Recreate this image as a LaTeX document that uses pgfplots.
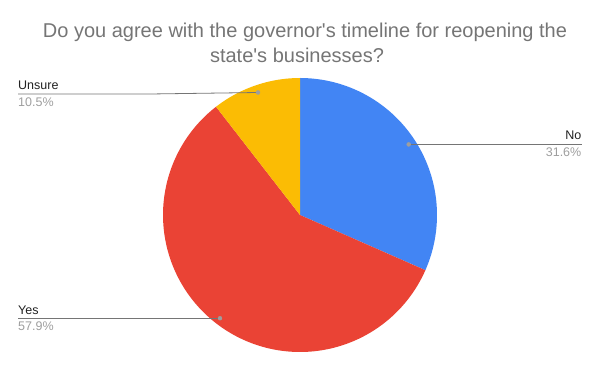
\documentclass[border=0pt]{standalone}
\usepackage{pgfplots}
\pgfplotsset{compat=1.18}
\usepackage{fontspec}
\setmainfont{Liberation Sans}
\definecolor{cNo}{HTML}{4285F4}
\definecolor{cYes}{HTML}{EA4335}
\definecolor{cUn}{HTML}{FBBC04}
\definecolor{ttl}{HTML}{757575}
\definecolor{lab}{HTML}{222222}
\definecolor{pct}{HTML}{9E9E9E}
\definecolor{ldr}{HTML}{757575}
% values (percent)
\def\vNo{31.6}
\def\vYes{57.9}
\def\vUn{10.5}
\pgfmathsetmacro{\aA}{90}
\pgfmathsetmacro{\aB}{90-3.6*\vNo}
\pgfmathsetmacro{\aC}{\aB-3.6*\vYes}
\pgfmathsetmacro{\aD}{\aC-3.6*\vUn}
\begin{document}
\begin{tikzpicture}
\begin{axis}[
  width=600bp, height=371bp, scale only axis,
  xmin=0, xmax=600, ymin=0, ymax=371,
  hide axis, clip=false,
]
\addplot[draw=none, forget plot] coordinates {(0,0) (600,371)};
% slices
\addplot[fill=cNo, draw=none, domain=\aA:\aB, samples=90] ({300+137*cos(x)},{156+137*sin(x)}) -- (axis cs:300,156) -- cycle;
\addplot[fill=cYes, draw=none, domain=\aB:\aC, samples=150] ({300+137*cos(x)},{156+137*sin(x)}) -- (axis cs:300,156) -- cycle;
\addplot[fill=cUn, draw=none, domain=\aC:\aD, samples=40] ({300+137*cos(x)},{156+137*sin(x)}) -- (axis cs:300,156) -- cycle;
% leader lines
\addplot[ldr, line width=0.8pt] coordinates {(18,277) (150,277) (258,278.5)};
\addplot[ldr, line width=0.8pt] coordinates {(408.7,226.6) (581.5,226.6)};
\addplot[ldr, line width=0.8pt] coordinates {(18,52.8) (220,52.8)};
\addplot[only marks, mark=*, mark size=2pt, pct, mark options={draw=pct, fill=pct}] coordinates {(258,278.5) (408.7,226.6) (220,52.8)};
% labels
\node[anchor=base west, font=\fontsize{12.5bp}{14bp}\selectfont, text=lab, inner sep=0pt] at (axis cs:18,281) {Unsure};
\node[anchor=base west, font=\fontsize{12.5bp}{14bp}\selectfont, text=pct, inner sep=0pt] at (axis cs:18,264.3) {10.5\%};
\node[anchor=base east, font=\fontsize{12.5bp}{14bp}\selectfont, text=lab, inner sep=0pt] at (axis cs:581.5,231) {No};
\node[anchor=base east, font=\fontsize{12.5bp}{14bp}\selectfont, text=pct, inner sep=0pt] at (axis cs:581.5,214.3) {31.6\%};
\node[anchor=base west, font=\fontsize{12.5bp}{14bp}\selectfont, text=lab, inner sep=0pt] at (axis cs:18,57) {Yes};
\node[anchor=base west, font=\fontsize{12.5bp}{14bp}\selectfont, text=pct, inner sep=0pt] at (axis cs:18,41) {57.9\%};
% title
\node[anchor=base, font=\fontsize{20bp}{24bp}\selectfont, text=ttl, inner sep=0pt] at (axis cs:305,333.3) {Do you agree with the governor\textquotesingle s timeline for reopening the};
\node[anchor=base, font=\fontsize{20bp}{24bp}\selectfont, text=ttl, inner sep=0pt] at (axis cs:297,308) {state\textquotesingle s businesses?};
\end{axis}
\end{tikzpicture}
\end{document}
